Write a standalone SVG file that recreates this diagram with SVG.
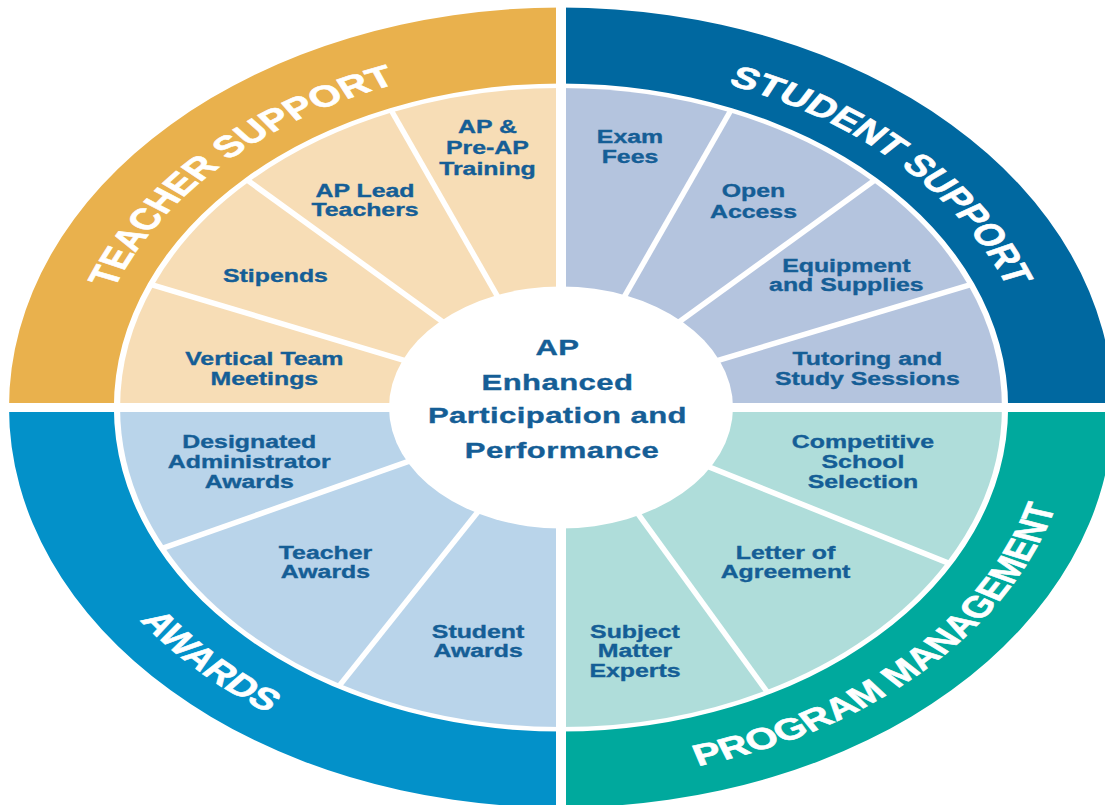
<svg xmlns="http://www.w3.org/2000/svg" xmlns:xlink="http://www.w3.org/1999/xlink" width="1105" height="805" viewBox="0 0 1105 805">
  <style>
    .lbl { font-family: "Liberation Sans", Arial, sans-serif; font-weight: bold; font-size: 18px; fill: #155E96; stroke: #155E96; stroke-width: 0.35px; text-anchor: middle; }
    .band { font-family: "Liberation Sans", Arial, sans-serif; font-weight: bold; font-size: 30px; fill: #FFFFFF; stroke: #FFFFFF; stroke-width: 0.6px; text-anchor: middle; }
    .hubtxt { font-family: "Liberation Sans", Arial, sans-serif; font-weight: bold; font-size: 22.5px; letter-spacing: 0.3px; fill: #155E96; stroke: #155E96; stroke-width: 0.35px; text-anchor: middle; }
    .div { stroke: #FFFFFF; stroke-width: 5.5; fill: none; }
    .ts-ring { fill: #E9B14D; } .ts-cell { fill: #F7DDB6; }
    .ss-ring { fill: #0068A0; } .ss-cell { fill: #B4C4DE; }
    .aw-ring { fill: #0391C9; } .aw-cell { fill: #B9D4EA; }
    .pm-ring { fill: #00A99D; } .pm-cell { fill: #AFDDDA; }
  </style>
  <defs>
    <!-- arcs for the band titles, in wheel coordinates (circle before horizontal stretch) -->
    <path id="arc-tl" d="M -345 0 A 345 345 0 0 1 0 -345"/>
    <path id="arc-tr" d="M 0 -345 A 345 345 0 0 1 345 0"/>
    <path id="arc-bl" d="M -372 0 A 372 372 0 0 0 0 372"/>
    <path id="arc-br" d="M 0 372 A 372 372 0 0 0 372 0"/>
  </defs>

  <rect x="0" y="0" width="1105" height="805" fill="#FFFFFF"/>

  <!-- the wheel is drawn as a circle and stretched horizontally -->
  <g id="wheel" transform="translate(561 407.5) scale(1.38 1)">

    <!-- outer bands -->
    <g id="teacher-support">
      <path class="ts-ring" d="M -400 0 A 400 400 0 0 1 0 -400 L 0 -324 A 324 324 0 0 0 -324 0 Z"/>
      <text class="band"><textPath xlink:href="#arc-tl" href="#arc-tl" startOffset="50%">TEACHER SUPPORT</textPath></text>
    </g>
    <g id="student-support">
      <path class="ss-ring" d="M 0 -400 A 400 400 0 0 1 400 0 L 324 0 A 324 324 0 0 0 0 -324 Z"/>
      <text class="band"><textPath xlink:href="#arc-tr" href="#arc-tr" startOffset="50%">STUDENT SUPPORT</textPath></text>
    </g>
    <g id="program-management">
      <path class="pm-ring" d="M 400 0 A 400 400 0 0 1 0 400 L 0 324 A 324 324 0 0 0 324 0 Z"/>
      <text class="band"><textPath xlink:href="#arc-br" href="#arc-br" startOffset="50%">PROGRAM MANAGEMENT</textPath></text>
    </g>
    <g id="awards">
      <path class="aw-ring" d="M 0 400 A 400 400 0 0 1 -400 0 L -324 0 A 324 324 0 0 0 0 324 Z"/>
      <text class="band"><textPath xlink:href="#arc-bl" href="#arc-bl" startOffset="50%">AWARDS</textPath></text>
    </g>

    <!-- teacher support cells -->
    <g id="vertical-team-meetings">
      <path class="ts-cell" d="M 0 0 L -319.5 0 A 319.5 319.5 0 0 1 -295.2 -122.3 Z"/>
      <text class="lbl" x="-215" y="-42.5">Vertical Team<tspan x="-215" dy="20">Meetings</tspan></text>
    </g>
    <g id="stipends">
      <path class="ts-cell" d="M 0 0 L -295.2 -122.3 A 319.5 319.5 0 0 1 -225.9 -225.9 Z"/>
      <text class="lbl" x="-206.9" y="-125.8">Stipends</text>
    </g>
    <g id="ap-lead-teachers">
      <path class="ts-cell" d="M 0 0 L -225.9 -225.9 A 319.5 319.5 0 0 1 -122.3 -295.2 Z"/>
      <text class="lbl" x="-142" y="-210.8">AP Lead<tspan x="-142" dy="19">Teachers</tspan></text>
    </g>
    <g id="ap-preap-training">
      <path class="ts-cell" d="M 0 0 L -122.3 -295.2 A 319.5 319.5 0 0 1 0 -319.5 Z"/>
      <text class="lbl" x="-53.3" y="-274.5">AP &amp;<tspan x="-53.3" dy="21">Pre-AP</tspan><tspan x="-53.3" dy="21">Training</tspan></text>
    </g>

    <!-- student support cells -->
    <g id="exam-fees">
      <path class="ss-cell" d="M 0 0 L 0 -319.5 A 319.5 319.5 0 0 1 122.3 -295.2 Z"/>
      <text class="lbl" x="50" y="-264.2">Exam<tspan x="50" dy="20">Fees</tspan></text>
    </g>
    <g id="open-access">
      <path class="ss-cell" d="M 0 0 L 122.3 -295.2 A 319.5 319.5 0 0 1 225.9 -225.9 Z"/>
      <text class="lbl" x="139.5" y="-210.5">Open<tspan x="139.5" dy="21">Access</tspan></text>
    </g>
    <g id="equipment-supplies">
      <path class="ss-cell" d="M 0 0 L 225.9 -225.9 A 319.5 319.5 0 0 1 295.2 -122.3 Z"/>
      <text class="lbl" x="206.8" y="-135.8">Equipment<tspan x="206.8" dy="19">and Supplies</tspan></text>
    </g>
    <g id="tutoring-study-sessions">
      <path class="ss-cell" d="M 0 0 L 295.2 -122.3 A 319.5 319.5 0 0 1 319.5 0 Z"/>
      <text class="lbl" x="222" y="-42.5">Tutoring and<tspan x="222" dy="20">Study Sessions</tspan></text>
    </g>

    <!-- program management cells -->
    <g id="competitive-school-selection">
      <path class="pm-cell" d="M 0 0 L 319.5 0 A 319.5 319.5 0 0 1 279.4 154.9 Z"/>
      <text class="lbl" x="218.8" y="40.8">Competitive<tspan x="218.8" dy="20">School</tspan><tspan x="218.8" dy="20">Selection</tspan></text>
    </g>
    <g id="letter-of-agreement">
      <path class="pm-cell" d="M 0 0 L 279.4 154.9 A 319.5 319.5 0 0 1 148.5 282.9 Z"/>
      <text class="lbl" x="162.7" y="151.5">Letter of<tspan x="162.7" dy="19.3">Agreement</tspan></text>
    </g>
    <g id="subject-matter-experts">
      <path class="pm-cell" d="M 0 0 L 148.5 282.9 A 319.5 319.5 0 0 1 0 319.5 Z"/>
      <text class="lbl" x="53.6" y="230.8">Subject<tspan x="53.6" dy="19.2">Matter</tspan><tspan x="53.6" dy="19.2">Experts</tspan></text>
    </g>

    <!-- awards cells -->
    <g id="student-awards">
      <path class="aw-cell" d="M 0 0 L 0 319.5 A 319.5 319.5 0 0 1 -159.8 276.7 Z"/>
      <text class="lbl" x="-60.1" y="230.8">Student<tspan x="-60.1" dy="18.8">Awards</tspan></text>
    </g>
    <g id="teacher-awards">
      <path class="aw-cell" d="M 0 0 L -159.8 276.7 A 319.5 319.5 0 0 1 -287.2 140.1 Z"/>
      <text class="lbl" x="-170.7" y="151.8">Teacher<tspan x="-170.7" dy="19">Awards</tspan></text>
    </g>
    <g id="designated-administrator-awards">
      <path class="aw-cell" d="M 0 0 L -287.2 140.1 A 319.5 319.5 0 0 1 -319.5 0 Z"/>
      <text class="lbl" x="-225.9" y="40.8">Designated<tspan x="-225.9" dy="19.8">Administrator</tspan><tspan x="-225.9" dy="19.8">Awards</tspan></text>
    </g>
  </g>

  <!-- white dividers between cells and between quadrants -->
  <g id="dividers">
    <line class="div" x1="561" y1="407.5" x2="391.0" y2="110.0"/>
    <line class="div" x1="561" y1="407.5" x2="246.8" y2="179.8"/>
    <line class="div" x1="561" y1="407.5" x2="150.5" y2="284.3"/>
    <line class="div" x1="561" y1="407.5" x2="731.0" y2="110.0"/>
    <line class="div" x1="561" y1="407.5" x2="875.2" y2="179.8"/>
    <line class="div" x1="561" y1="407.5" x2="971.5" y2="284.3"/>
    <line class="div" x1="561" y1="407.5" x2="161.6" y2="548.7"/>
    <line class="div" x1="561" y1="407.5" x2="338.8" y2="686.4"/>
    <line class="div" x1="561" y1="407.5" x2="949.7" y2="563.6"/>
    <line class="div" x1="561" y1="407.5" x2="767.6" y2="692.6"/>
    <rect x="556" y="0" width="10" height="805" fill="#FFFFFF"/>
    <rect x="0" y="403" width="1105" height="9" fill="#FFFFFF"/>
  </g>

  <!-- central hub -->
  <g id="hub">
    <ellipse cx="561" cy="407.5" rx="172" ry="121" fill="#FFFFFF"/>
    <text class="hubtxt" transform="translate(561 407.5) scale(1.38 1)">
      <tspan x="0.7" y="-52.5">AP</tspan>
      <tspan x="0.7" y="-17.5">Enhanced</tspan>
      <tspan x="0.7" y="15.8">Participation and</tspan>
      <tspan x="0.7" y="50.8">Performance</tspan>
    </text>
  </g>
</svg>
